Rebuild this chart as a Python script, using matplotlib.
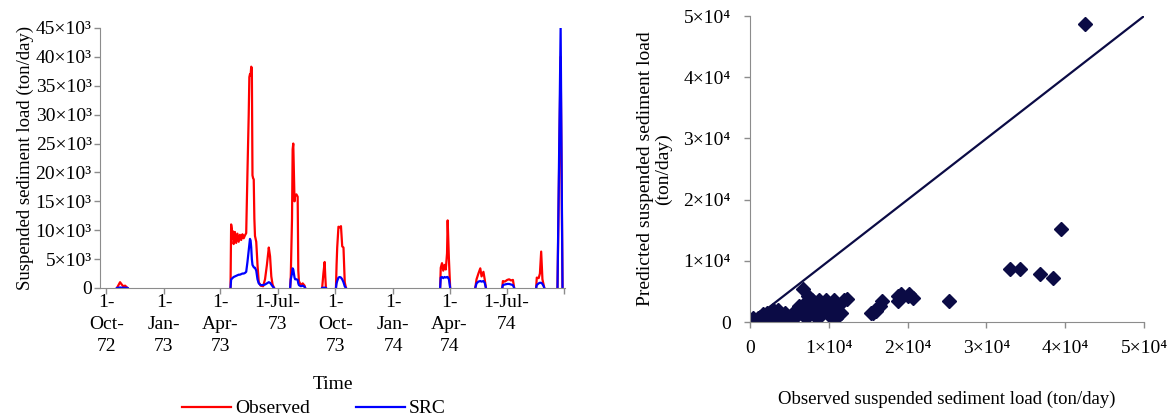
import numpy as np
import pandas as pd
import matplotlib
matplotlib.use("Agg")
import matplotlib.pyplot as plt

plt.rcParams['font.family'] = ['Liberation Serif', 'DejaVu Serif']
plt.rcParams['font.size'] = 14

# ---- time series (events, None = gap) ----
dates = ["1972-10-18", "1972-10-21", "1972-10-23", "1972-10-25", "1972-10-28", "1972-10-31", "1972-11-03", "1972-11-04", "1972-11-05",
         "1973-04-17", "1973-04-18", "1973-04-19", "1973-04-20", "1973-04-21", "1973-04-22", "1973-04-24", "1973-04-26",
         "1973-04-28", "1973-04-30", "1973-05-02", "1973-05-04", "1973-05-06", "1973-05-08", "1973-05-10", "1973-05-12",
         "1973-05-14", "1973-05-16", "1973-05-17", "1973-05-18", "1973-05-19", "1973-05-20", "1973-05-21", "1973-05-22",
         "1973-05-23", "1973-05-24", "1973-05-25", "1973-05-26", "1973-05-28", "1973-05-30", "1973-06-01", "1973-06-04",
         "1973-06-08", "1973-06-11", "1973-06-14", "1973-06-17", "1973-06-19", "1973-06-21", "1973-06-23", "1973-06-25", "1973-06-26",
         "1973-07-21", "1973-07-22", "1973-07-24", "1973-07-25", "1973-07-26", "1973-07-27", "1973-07-28", "1973-07-29",
         "1973-07-31", "1973-08-02", "1973-08-03", "1973-08-04", "1973-08-07", "1973-08-10", "1973-08-13", "1973-08-14", "1973-08-15",
         "1973-09-10", "1973-09-12", "1973-09-14", "1973-09-15", "1973-09-16", "1973-09-17",
         "1973-10-02", "1973-10-03", "1973-10-04", "1973-10-06", "1973-10-08", "1973-10-10", "1973-10-12", "1973-10-14",
         "1973-10-16", "1973-10-18", "1973-10-19",
         "1974-03-17", "1974-03-18", "1974-03-20", "1974-03-22", "1974-03-24", "1974-03-26", "1974-03-28", "1974-03-29",
         "1974-03-31", "1974-04-02", "1974-04-03",
         "1974-05-12", "1974-05-14", "1974-05-17", "1974-05-20", "1974-05-22", "1974-05-25", "1974-05-27", "1974-05-29", "1974-05-30",
         "1974-06-24", "1974-06-25", "1974-06-28", "1974-07-02", "1974-07-05", "1974-07-08", "1974-07-11", "1974-07-13", "1974-07-14",
         "1974-08-17", "1974-08-18", "1974-08-21", "1974-08-23", "1974-08-25", "1974-08-27", "1974-08-29", "1974-08-30", "1974-08-31",
         "1974-09-20", "1974-09-25", "1974-09-28"]
observed = [0, 600, 1000, 700, 300, 400, 100, 0, None,
            0, 11000, 10200, 8500, 9800, 7600, 9700, 7800,
            9400, 8000, 9200, 8300, 9300, 8600, 9100, 9500,
            20000, 30000, 36500, 37000, 36800, 38300, 38000, 19500,
            19000, 18800, 12000, 9000, 8000, 4000, 1000, 400,
            300, 1500, 4000, 7000, 5500, 2000, 600, 100, None,
            0, 2000, 12000, 24000, 25000, 20000, 15000, 16000,
            16200, 15800, 3000, 1200, 500, 800, 400, 0, None,
            0, 2500, 4500, 2000, 0, None,
            0, 4000, 7000, 10600, 10500, 10700, 7200, 7000,
            1000, 0, None,
            0, 3500, 4300, 3000, 4000, 3200, 6000, 11700,
            5000, 0, None,
            0, 1500, 2500, 3400, 2000, 2800, 1500, 0, None,
            0, 1200, 1100, 1400, 1500, 1300, 1400, 0, None,
            0, 1800, 1700, 2500, 6300, 1500, 500, 0, None,
            0, 40000, 0]
src = [0, 50, 80, 60, 40, 40, 20, 0, None,
       0, 1500, 1600, 1700, 1800, 1900, 2000, 2100,
       2200, 2300, 2300, 2400, 2500, 2500, 2600, 2800,
       4500, 6500, 7500, 8500, 8200, 7000, 5000, 4000,
       3800, 3600, 3500, 3500, 3000, 1500, 800, 500,
       500, 600, 800, 1000, 900, 600, 300, 50, None,
       0, 1500, 2500, 3400, 3200, 2500, 1800, 1500,
       1500, 1400, 800, 500, 300, 400, 200, 0, None,
       0, 50, 50, 50, 0, None,
       0, 800, 1200, 1800, 1900, 1800, 1500, 1000,
       300, 0, None,
       0, 1800, 1900, 1700, 1900, 1800, 1900, 1900,
       1500, 0, None,
       0, 800, 1100, 1200, 1100, 1200, 900, 0, None,
       0, 500, 600, 700, 700, 600, 500, 0, None,
       0, 500, 800, 900, 900, 700, 300, 0, None,
       0, 45000, 0]

tick_dates = ["1972-10-01", "1973-01-01", "1973-04-01", "1973-07-01", "1973-10-01",
              "1974-01-01", "1974-04-01", "1974-07-01", "1974-10-01"]
tick_labels = ["1-\nOct-\n72", "1-\nJan-\n73", "1-\nApr-\n73", "1-Jul-\n73", "1-\nOct-\n73",
               "1-\nJan-\n74", "1-\nApr-\n74", "1-Jul-\n74", ""]
yticks_left = [0, 5000, 10000, 15000, 20000, 25000, 30000, 35000, 40000, 45000]
ylabels_left = ["0", "5×10³", "10×10³", "15×10³", "20×10³", "25×10³", "30×10³", "35×10³", "40×10³", "45×10³"]

# ---- scatter: observed vs predicted ----
obs_pts = [42500, 39400, 33000, 34300, 36800, 38400, 25200, 20200, 20700, 19100, 18800,
           16700, 16500, 16000, 15600, 15400, 15800, 18750, 20000,
           6700, 7300, 7900, 8750, 9600, 10600, 11900, 12300, 11000, 10200, 11000, 10400,
           9000, 8100, 7300, 9000, 7100, 8500, 6500, 6000, 5600, 11600, 10900,
           4400, 3500, 2700, 3100, 4800, 1900, 1000, 200, 600, 1500, 2300, 4000,
           300, 800, 1200, 500, 2000, 2600, 3000, 100, 400, 1700, 3800, 4900, 5300,
           2200, 2900, 3300, 4200, 5600, 6200, 6900, 7600, 8300, 9400, 9800, 10700]
pred_pts = [48700, 15200, 8600, 8600, 7900, 7200, 3400, 4500, 4000, 4500, 3400,
            3400, 2600, 1800, 1500, 1400, 1900, 4200, 4200,
            5400, 4200, 3600, 3600, 3600, 3600, 3600, 3700, 2500, 1900, 1400, 600,
            2500, 1700, 1400, 1100, 600, 600, 1900, 1100, 600, 1500, 700,
            1400, 1900, 1700, 600, 300, 1100, 600, 0, 300, 0, 300, 0,
            200, 400, 800, 100, 500, 1000, 1800, 50, 600, 1300, 1500, 200, 800,
            1500, 2000, 1200, 700, 1600, 2600, 2900, 2200, 3000, 2800, 1800, 2400]
ticks_right = [0, 10000, 20000, 30000, 40000, 50000]
labels_right = ["0", "1×10⁴", "2×10⁴", "3×10⁴", "4×10⁴", "5×10⁴"]

t = pd.to_datetime(dates)
obs = np.array([np.nan if v is None else v for v in observed], dtype=float)
sr = np.array([np.nan if v is None else v for v in src], dtype=float)

fig = plt.figure(figsize=(11.72, 4.17), dpi=100)
gray = '#8c8c8c'

ax1 = fig.add_axes([0.0853, 0.3094, 0.3968, 0.6235])
l1, = ax1.plot(t, obs, color='#ff0000', lw=1.6, label='Observed')
l2, = ax1.plot(t, sr, color='#0000ff', lw=1.6, label='SRC')
ax1.set_xlim(pd.Timestamp("1972-09-21"), pd.Timestamp("1974-10-02"))
ax1.set_ylim(0, 45000)
ax1.set_xticks(pd.to_datetime(tick_dates))
ax1.set_xticklabels(tick_labels, linespacing=1.42)
ax1.set_yticks(yticks_left)
ax1.set_yticklabels(ylabels_left)
ax1.set_ylabel("Suspended sediment load (ton/day)", labelpad=1, fontsize=13.5)
ax1.set_xlabel("Time", labelpad=15)
for s in ['top', 'right']:
    ax1.spines[s].set_visible(False)
for s in ['left', 'bottom']:
    ax1.spines[s].set_color(gray)
ax1.tick_params(colors=gray, labelcolor='black', length=4, width=1)
ax1.tick_params(axis='x', pad=0)
ax1.tick_params(axis='y', pad=2)

fig.legend(handles=[l1, l2], loc='center', bbox_to_anchor=(0.268, 0.02), ncol=2, frameon=False,
           handlelength=2.5, handletextpad=0.2, columnspacing=2.4, fontsize=14)

ax2 = fig.add_axes([0.640, 0.2278, 0.3362, 0.7338])
ax2.plot([0, 50000], [0, 50000], color='#0b0b45', lw=1.6)
ax2.plot(obs_pts, pred_pts, 'D', color='#0b0b45', ms=7.5, lw=0)
ax2.set_xlim(0, 50000)
ax2.set_ylim(0, 50000)
ax2.set_xticks(ticks_right)
ax2.set_xticklabels(labels_right)
ax2.set_yticks(ticks_right)
ax2.set_yticklabels(labels_right)
ax2.set_xlabel("Observed suspended sediment load (ton/day)", labelpad=24, fontsize=13.5)
ax2.set_ylabel("Predicted suspended sediment load\n(ton/day)", labelpad=8, linespacing=1.05)
for s in ['top', 'right']:
    ax2.spines[s].set_visible(False)
for s in ['left', 'bottom']:
    ax2.spines[s].set_color(gray)
ax2.tick_params(colors=gray, labelcolor='black', length=4, width=1)
ax2.tick_params(axis='x', pad=9)
ax2.tick_params(axis='y', pad=10)

fig.savefig("out.png", dpi=100)
